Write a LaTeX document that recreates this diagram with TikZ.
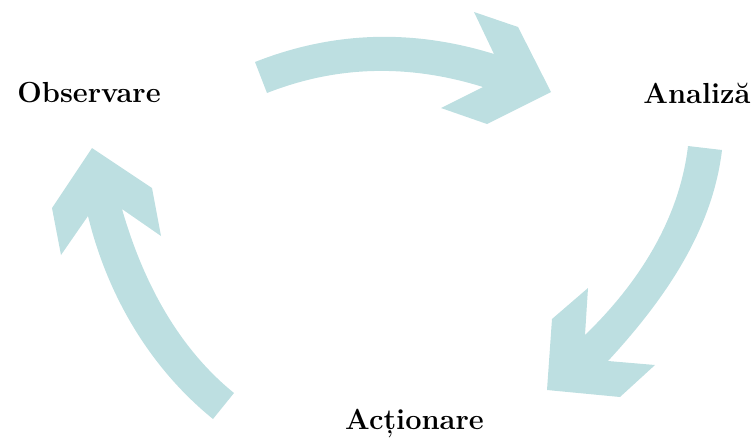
\documentclass[tikz,border=0pt]{standalone}
\usepackage{fontspec}
\definecolor{arrowteal}{RGB}{189,223,225}
\tikzset{
  cyclearrow/.style={fill=arrowteal, draw=none},
  steplabel/.style={font=\fontsize{29}{34}\selectfont\bfseries, inner sep=0pt, anchor=base, text=black}
}
\begin{document}
\begin{tikzpicture}[x=1pt,y=-1pt]
\useasboundingbox (0,0) rectangle (753,440);
% top arrow
\path[cyclearrow] (267,93) -- (255,62) .. controls (332.7,31.3) and (412.3,28.7) .. (494,54)
  -- (474,12) -- (518,27) -- (551,92) -- (487,124) -- (441,108) -- (483,87)
  .. controls (408.3,63.7) and (336.3,65.7) .. (267,93) -- cycle;
% right arrow
\path[cyclearrow] (688,146) -- (722,150) .. controls (712.4,231.3) and (663.5,300.8) .. (608,361)
  -- (655,365) -- (620,397) -- (547,390) -- (552,319) -- (588,288) -- (585,335)
  .. controls (638.2,283.7) and (679.4,219.4) .. (688,146) -- cycle;
% left arrow
\path[cyclearrow] (213,419) -- (234,393) .. controls (176.9,346.7) and (142.3,279.7) .. (122,209)
  -- (161,236) -- (152,188) -- (92,148) -- (52,208) -- (61,255) -- (88,216)
  .. controls (107.3,295.2) and (149.7,367.7) .. (213,419) -- cycle;
\node[steplabel] (obs) at (89,102) {Observare};
\node[steplabel] (ana) at (697,103) {Analiză};
\node[steplabel] (act) at (414.5,429) {Acționare};
\end{tikzpicture}
\end{document}
